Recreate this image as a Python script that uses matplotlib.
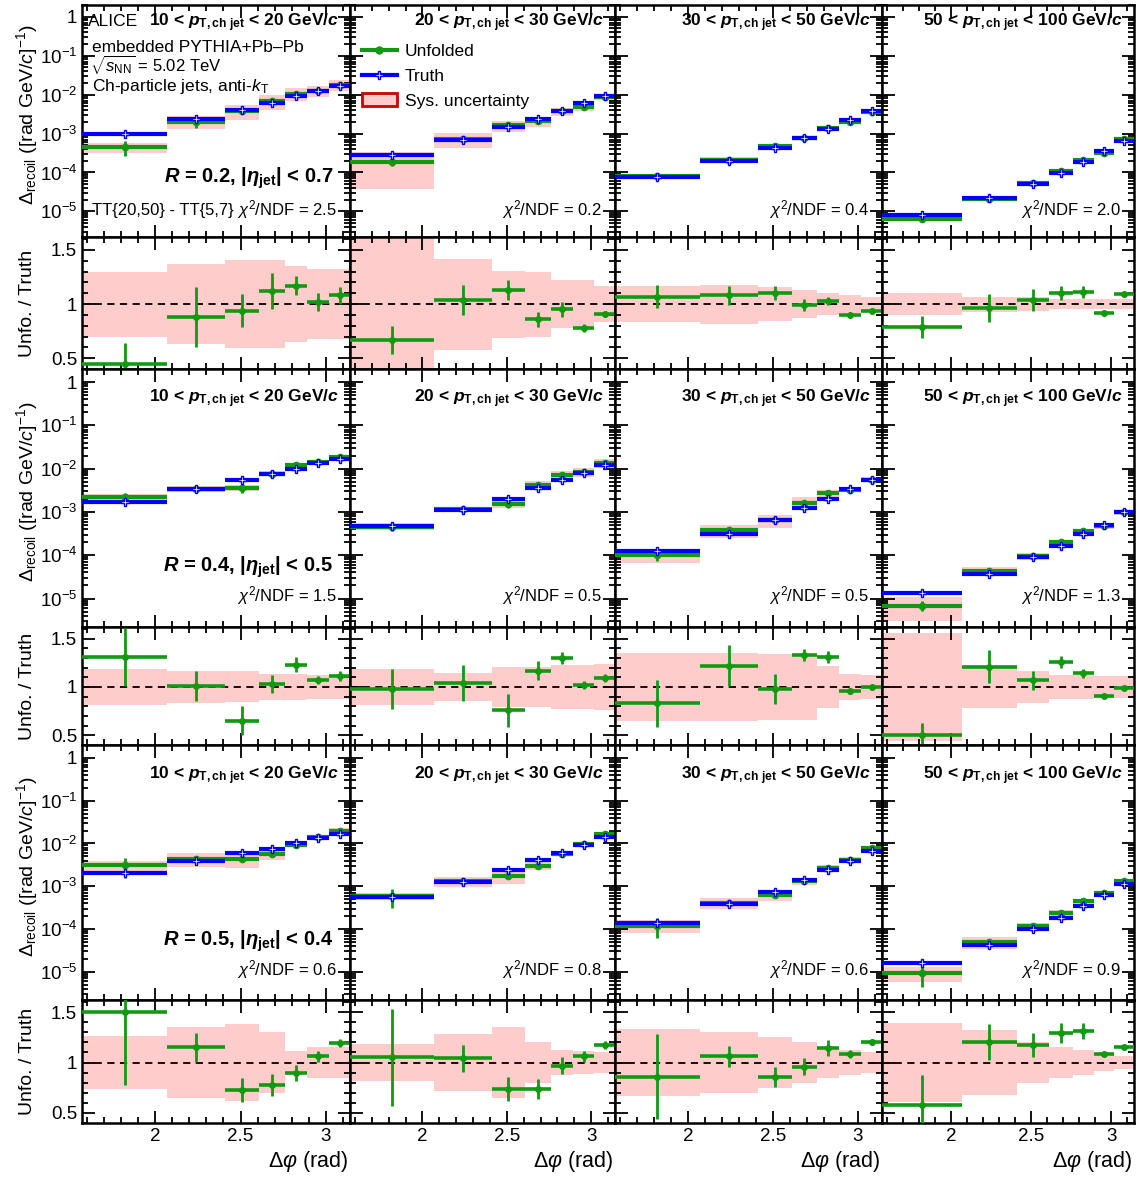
import numpy as np
import matplotlib.pyplot as plt
from matplotlib.lines import Line2D
from matplotlib.patches import Patch
from matplotlib.ticker import FixedLocator, LogLocator, MultipleLocator, NullFormatter

plt.rcParams['font.family'] = ['Liberation Sans', 'DejaVu Sans']
plt.rcParams['mathtext.fontset'] = 'custom'
plt.rcParams['mathtext.rm'] = 'Liberation Sans'
plt.rcParams['mathtext.it'] = 'Liberation Sans:italic'
plt.rcParams['mathtext.bf'] = 'Liberation Sans:bold'
plt.rcParams['mathtext.bfit'] = 'Liberation Sans:italic:bold'

# delta phi bin edges (rad)
dphi_edges = [np.pi / 2, 2.07, 2.41, 2.61, 2.76, 2.89, 3.02, np.pi]

pt_low = ['10', '20', '30', '50']
pt_high = ['20', '30', '50', '100']

# ---- R = 0.2 ----
truth_r02 = [[1.0e-3, 2.3e-3, 4.0e-3, 6.1e-3, 9.1e-3, 1.24e-2, 1.64e-2],
             [2.74e-4, 6.9e-4, 1.44e-3, 2.4e-3, 3.9e-3, 6.1e-3, 9.3e-3],
             [7.5e-5, 1.96e-4, 4.3e-4, 7.9e-4, 1.33e-3, 2.22e-3, 3.8e-3],
             [7.9e-6, 2.2e-5, 5.2e-5, 9.7e-5, 1.86e-4, 3.5e-4, 6.6e-4]]
ratio_r02 = [[0.45, 0.88, 0.94, 1.12, 1.17, 1.02, 1.08],
             [0.67, 1.04, 1.13, 0.86, 0.95, 0.78, 0.91],
             [1.07, 1.08, 1.10, 0.99, 1.03, 0.90, 0.94],
             [0.79, 0.96, 1.04, 1.10, 1.11, 0.92, 1.09]]
stat_r02 = [[0.19, 0.28, 0.15, 0.165, 0.085, 0.08, 0.075],
            [0.13, 0.14, 0.095, 0.07, 0.07, 0.04, 0.03],
            [0.105, 0.085, 0.065, 0.055, 0.035, 0.02, 0.02],
            [0.10, 0.13, 0.10, 0.065, 0.055, 0.02, 0.02]]
sys_r02 = [[0.30, 0.37, 0.41, 0.41, 0.35, 0.32, 0.32],
           [0.80, 0.42, 0.31, 0.30, 0.22, 0.22, 0.165],
           [0.17, 0.18, 0.155, 0.13, 0.105, 0.085, 0.07],
           [0.10, 0.07, 0.065, 0.05, 0.05, 0.045, 0.045]]
chi2_r02 = ['2.5', '0.2', '0.4', '2.0']

# ---- R = 0.4 ----
truth_r04 = [[1.7e-3, 3.4e-3, 5.5e-3, 7.4e-3, 9.8e-3, 1.35e-2, 1.7e-2],
             [4.7e-4, 1.1e-3, 2.04e-3, 3.6e-3, 5.6e-3, 8.1e-3, 1.22e-2],
             [1.22e-4, 3.1e-4, 6.6e-4, 1.23e-3, 2.04e-3, 3.4e-3, 5.6e-3],
             [1.36e-5, 3.65e-5, 8.9e-5, 1.62e-4, 3.1e-4, 5.1e-4, 9.8e-4]]
ratio_r04 = [[1.31, 1.01, 0.65, 1.03, 1.23, 1.07, 1.11],
             [0.98, 1.04, 0.76, 1.17, 1.30, 1.02, 1.09],
             [0.83, 1.22, 0.98, 1.33, 1.31, 0.96, 1.00],
             [0.50, 1.21, 1.07, 1.26, 1.14, 0.91, 0.99]]
stat_r04 = [[0.30, 0.15, 0.15, 0.095, 0.08, 0.04, 0.05],
            [0.21, 0.185, 0.17, 0.095, 0.065, 0.04, 0.04],
            [0.24, 0.21, 0.155, 0.065, 0.065, 0.03, 0.025],
            [0.13, 0.17, 0.10, 0.065, 0.045, 0.02, 0.02]]
sys_r04 = [[0.19, 0.17, 0.16, 0.135, 0.13, 0.12, 0.12],
           [0.19, 0.145, 0.21, 0.21, 0.23, 0.23, 0.24],
           [0.35, 0.35, 0.34, 0.34, 0.22, 0.135, 0.12],
           [0.56, 0.22, 0.17, 0.12, 0.12, 0.11, 0.11]]
chi2_r04 = ['1.5', '0.5', '0.5', '1.3']

# ---- R = 0.5 ----
truth_r05 = [[2.05e-3, 3.85e-3, 6.0e-3, 7.4e-3, 1.01e-2, 1.32e-2, 1.64e-2],
             [5.5e-4, 1.26e-3, 2.4e-3, 4.1e-3, 5.9e-3, 9.3e-3, 1.42e-2],
             [1.4e-4, 3.9e-4, 7.2e-4, 1.38e-3, 2.35e-3, 3.9e-3, 6.5e-3],
             [1.62e-5, 4.2e-5, 1.0e-4, 1.86e-4, 3.4e-4, 6.4e-4, 1.16e-3]]
ratio_r05 = [[1.50, 1.15, 0.73, 0.78, 0.90, 1.06, 1.19],
             [1.05, 1.04, 0.74, 0.74, 0.97, 1.06, 1.17],
             [0.86, 1.06, 0.86, 0.96, 1.14, 1.08, 1.20],
             [0.58, 1.20, 1.17, 1.29, 1.31, 1.08, 1.15]]
stat_r05 = [[0.72, 0.14, 0.12, 0.11, 0.08, 0.05, 0.04],
            [0.48, 0.13, 0.12, 0.10, 0.08, 0.05, 0.04],
            [0.42, 0.10, 0.10, 0.08, 0.08, 0.04, 0.03],
            [0.30, 0.18, 0.12, 0.10, 0.08, 0.02, 0.02]]
sys_r05 = [[0.26, 0.35, 0.38, 0.30, 0.11, 0.15, 0.15],
           [0.18, 0.28, 0.35, 0.20, 0.12, 0.11, 0.10],
           [0.33, 0.30, 0.25, 0.20, 0.15, 0.12, 0.10],
           [0.39, 0.32, 0.20, 0.15, 0.12, 0.08, 0.06]]
chi2_r05 = ['0.6', '0.8', '0.6', '0.9']

r_labels = [r'$\mathbfit{R}$ = 0.2, |$\mathbfit{\eta}_{\mathbf{jet}}$| < 0.7',
            r'$\mathbfit{R}$ = 0.4, |$\mathbfit{\eta}_{\mathbf{jet}}$| < 0.5',
            r'$\mathbfit{R}$ = 0.5, |$\mathbfit{\eta}_{\mathbf{jet}}$| < 0.4']

sets = [(truth_r02, ratio_r02, stat_r02, sys_r02, chi2_r02),
        (truth_r04, ratio_r04, stat_r04, sys_r04, chi2_r04),
        (truth_r05, ratio_r05, stat_r05, sys_r05, chi2_r05)]

green = '#119a11'
blue = '#0000ff'
pink = '#ffcccc'

W, H = 1139, 1180
fig = plt.figure(figsize=(W / 100, H / 100), dpi=100)

col_px = [82, 350, 615, 882, 1134]
rows_px = [(5, 237, 369), (369, 627, 745), (745, 1000, 1123)]
hdr_base = [26, 402, 779]
rlab_base = [183, 572, 946]
chi_base = [215, 601, 975]

edges = np.array(dphi_edges)
centers = 0.5 * (edges[:-1] + edges[1:])
widths = edges[1:] - edges[:-1]


def add_ax(x0, x1, y0, y1):
    return fig.add_axes([x0 / W, 1 - y1 / H, (x1 - x0) / W, (y1 - y0) / H])


def ftext(x, y, s, **kw):
    return fig.text(x / W, 1 - y / H, s, **kw)


def style(ax):
    for sp in ax.spines.values():
        sp.set_linewidth(1.8)
    ax.tick_params(which='both', direction='in', top=True, right=True,
                   width=1.3, labelsize=13.5)
    ax.tick_params(which='major', length=9)
    ax.tick_params(which='minor', length=4.5)
    ax.set_xlim(np.pi / 2, np.pi)
    ax.xaxis.set_major_locator(FixedLocator([2, 2.5, 3]))
    ax.xaxis.set_minor_locator(MultipleLocator(0.1))
    ax.set_xticklabels(['2', '2.5', '3'])


for r, (truth_all, ratio_all, stat_all, sys_all, chi2_all) in enumerate(sets):
    top, mid, bot = rows_px[r]
    for c in range(4):
        truth = np.array(truth_all[c])
        ratio = np.array(ratio_all[c])
        stat = np.array(stat_all[c])
        sys = np.array(sys_all[c])
        unf = truth * ratio
        err = truth * stat

        # spectra
        axs = add_ax(col_px[c], col_px[c + 1], top, mid)
        style(axs)
        axs.set_yscale('log')
        axs.set_ylim(2.2e-6, 2.0)
        axs.yaxis.set_major_locator(FixedLocator([1e-5, 1e-4, 1e-3, 1e-2, 1e-1, 1]))
        axs.yaxis.set_minor_locator(LogLocator(base=10, subs=np.arange(2, 10), numticks=30))
        axs.yaxis.set_minor_formatter(NullFormatter())
        axs.set_yticklabels([r'$10^{-5}$', r'$10^{-4}$', r'$10^{-3}$',
                             r'$10^{-2}$', r'$10^{-1}$', '1'])
        axs.bar(centers, 2 * sys * unf, bottom=unf * (1 - sys), width=widths,
                color=pink, lw=0, zorder=1)
        axs.hlines(unf, edges[:-1], edges[1:], color=green, lw=3, zorder=3)
        axs.vlines(centers, np.maximum(unf - err, 1e-7), unf + err, color=green, lw=2, zorder=3)
        axs.plot(centers, unf, 'o', color=green, ms=4.5, zorder=4)
        axs.hlines(truth, edges[:-1], edges[1:], color=blue, lw=3, zorder=5)
        axs.plot(centers, truth, 'P', mfc='white', mec=blue, ms=5.5, mew=1.0, zorder=6)
        axs.tick_params(labelbottom=False, labelleft=(c == 0))

        # ratio
        axr = add_ax(col_px[c], col_px[c + 1], mid, bot)
        style(axr)
        axr.set_ylim(0.4, 1.62)
        axr.yaxis.set_major_locator(FixedLocator([0.5, 1, 1.5]))
        axr.yaxis.set_minor_locator(MultipleLocator(0.1))
        axr.set_yticklabels(['0.5', '1', '1.5'])
        axr.bar(centers, 2 * sys, bottom=1 - sys, width=widths, color=pink, lw=0, zorder=1)
        axr.axhline(1, color='black', ls=(0, (4, 3)), lw=1.3, zorder=2)
        axr.hlines(ratio, edges[:-1], edges[1:], color=green, lw=2.6, zorder=3)
        axr.vlines(centers, ratio - stat, ratio + stat, color=green, lw=2, zorder=3)
        axr.plot(centers, ratio, 'o', color=green, ms=4, zorder=4)
        axr.tick_params(labelbottom=(r == 2), labelleft=(c == 0))

        # texts
        right = col_px[c + 1]
        hdr = (pt_low[c] + r' < $\mathbfit{p}_{\mathbf{T,ch\ jet}}$ < ' + pt_high[c]
               + r' GeV/$\mathbfit{c}$')
        ftext(right - 11, hdr_base[r], hdr, ha='right', va='baseline',
              fontsize=12.5, fontweight='bold')
        ftext(right - 13, chi_base[r], r'$\chi^2$/NDF = ' + chi2_all[c],
              ha='right', va='baseline', fontsize=12)
        if r == 2:
            ftext(right - 2, 1161, r'$\Delta\varphi$ (rad)', ha='right', va='center',
                  fontsize=15.5)

    ftext(333, rlab_base[r], r_labels[r], ha='right', va='baseline',
          fontsize=14.5, fontweight='bold')
    ftext(27, (top + mid) / 2 - 6, r'$\Delta_{\rm recoil}$ ([rad GeV/$c$]$^{-1}$)',
          rotation=90, ha='center', va='center', fontsize=14)
    ftext(27, (mid + bot) / 2, 'Unfo. / Truth', rotation=90, ha='center',
          va='center', fontsize=14)

# top-left annotations
ftext(88, 26, 'ALICE', ha='left', va='baseline', fontsize=12.5)
ftext(92, 52, 'embedded PYTHIA+Pb\u2013Pb', ha='left', va='baseline', fontsize=12.5)
ftext(90, 71, r'$\sqrt{s_{\rm NN}}$ = 5.02 TeV', ha='left', va='baseline', fontsize=12)
ftext(92, 91, r'Ch-particle jets, anti-$k_{\rm T}$', ha='left', va='baseline', fontsize=12.5)
ftext(92, 215, 'TT{20,50} - TT{5,7}', ha='left', va='baseline', fontsize=12)

# legend in second column, top row
handles = [Line2D([], [], color=green, lw=3, marker='o', ms=5),
           Line2D([], [], color=blue, lw=3, marker='P', mfc='white', mec=blue, ms=5.5, mew=1.0),
           Patch(facecolor=pink, edgecolor='#cc0000', lw=2)]
fig.legend(handles, ['Unfolded', 'Truth', 'Sys. uncertainty'],
           loc='upper left', bbox_to_anchor=(362 / W, 1 - 44 / H), frameon=False,
           fontsize=12.5, handlelength=2.0, handletextpad=0.45, labelspacing=0.55,
           borderaxespad=0, borderpad=0)

fig.savefig('out.png', dpi=100)
